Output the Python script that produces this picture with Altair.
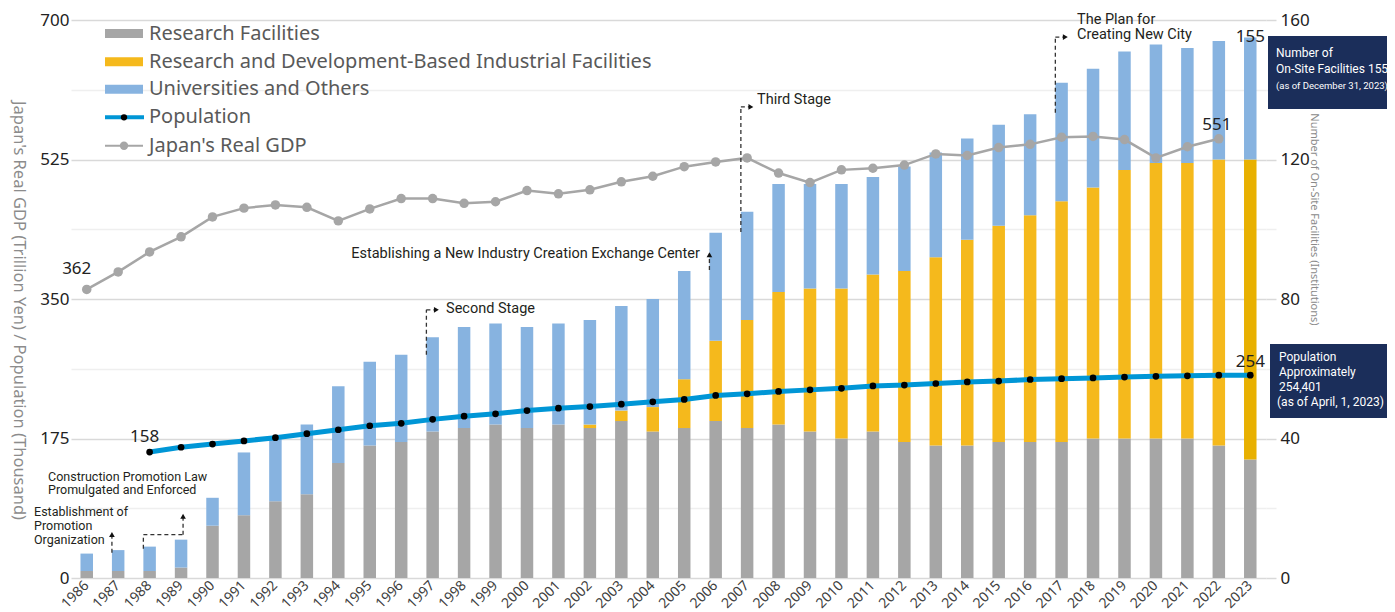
import altair as alt
import pandas as pd

# ---------------- data ----------------
years = list(range(1986, 2024))
research_facilities = [2, 2, 2, 3, 15, 18, 22, 24, 33, 38, 39, 42, 43, 44, 43, 44, 43, 45, 42, 43,
                       45, 43, 44, 42, 40, 42, 39, 38, 38, 39, 39, 39, 40, 40, 40, 40, 38, 34]
rd_facilities = [0, 0, 0, 0, 0, 0, 0, 0, 0, 0, 0, 0, 0, 0, 0, 0, 1, 3, 7, 14,
                 23, 31, 38, 41, 43, 45, 49, 54, 59, 62, 65, 69, 72, 77, 79, 79, 82, 86]
universities = [5, 6, 7, 8, 8, 18, 18, 20, 22, 24, 25, 27, 29, 29, 29, 29, 30, 30, 31, 31,
                31, 31, 31, 30, 30, 28, 30, 30, 29, 29, 29, 34, 34, 34, 34, 33, 34, 35]

pop_years = list(range(1988, 2024))
population = [158, 164, 168, 172, 176, 181, 186, 191, 194, 199, 203, 206, 210, 213, 215, 218,
              221, 224, 229, 231, 234, 236, 238, 241, 242, 244, 246, 247, 249, 250, 251, 252,
              253, 253.6, 254.5, 254.4]

gdp_years = list(range(1986, 2023))
gdp = [362, 384, 409, 428, 453, 464, 468, 465, 448, 463, 476, 476, 470, 472, 486, 482, 487,
       497, 504, 516, 522, 527, 508, 496, 512, 514, 518, 532, 530, 540, 544, 553, 554, 550,
       527, 541, 551]

left_ticks = [0, 175, 350, 525, 700]
right_ticks = list(range(0, 161, 10))

categories = ["Research Facilities", "Research and Development-Based Industrial Facilities",
              "Universities and Others"]
legend_lines = ["Population", "Japan's Real GDP"]

FONT = "Noto Sans"
AFONT = "Roboto"
W, H = 1195, 558
BARW = 12.5

# ---------------- frames ----------------
rows = []
for i, yr in enumerate(years):
    for o, (cat, vals) in enumerate(zip(categories, [research_facilities, rd_facilities, universities])):
        key = cat + (" 2023" if (yr == 2023 and o == 1) else "")
        rows.append({"year": yr, "key": key, "n": vals[i], "o": o})
bar_df = pd.DataFrame(rows)

gdp_df = pd.DataFrame({"year": gdp_years, "v": gdp})
pop_df = pd.DataFrame({"year": pop_years, "v": population})
tot_df = pd.DataFrame({"year": years,
                       "n": [a + b + c for a, b, c in zip(research_facilities, rd_facilities, universities)]})

xs = alt.Scale(domain=years, paddingInner=0, paddingOuter=0)
X = alt.X("year:O", scale=xs)
ys_left = alt.Scale(domain=[0, 700], nice=False, zero=True)
ys_right = alt.Scale(domain=[0, 160], nice=False, zero=True)

major_test = "datum.value % 40 == 0"
grid_color = {"condition": {"test": major_test, "value": "#d9d9d9"}, "value": "#efefef"}

# ---------------- bars (right axis) ----------------
bars = alt.Chart(bar_df).mark_bar(width=BARW).encode(
    x=alt.X("year:O", scale=xs, axis=alt.Axis(
        title=None, labelAngle=-45, labelAlign="right", labelBaseline="middle",
        labelFont=FONT, labelFontSize=14, labelColor="#404040", labelPadding=5,
        ticks=False, domain=False, labelOverlap=False)),
    y=alt.Y("n:Q", stack="zero", scale=ys_right, axis=alt.Axis(
        orient="right", values=right_ticks,
        labelExpr="datum.value % 40 == 0 ? datum.label : ''",
        grid=True, gridColor=grid_color, gridWidth=1.5,
        ticks=True, tickSize=10, tickWidth=1.5, tickColor=grid_color,
        domain=False, labelFont=FONT, labelFontSize=17, labelColor="#222222", labelPadding=4,
        title="Number of On-Site Facilities (Institutions)", titleFont=FONT, titleFontSize=11,
        titleFontWeight="normal", titleColor="#8a8a8a", titleAngle=90, titleX=47, titleY=199,
        titleAlign="center", titleBaseline="middle")),
    color=alt.Color("key:N", legend=None, scale=alt.Scale(
        domain=categories + [categories[1] + " 2023"],
        range=["#a6a6a6", "#f5b91c", "#87b3e0", "#e8b000"])),
    order=alt.Order("o:Q"),
)
bar_label = alt.Chart(tot_df[tot_df.year == 2023]).mark_text(
    font=FONT, fontSize=17, color="#222222", baseline="middle", align="center"
).encode(x=X, y=alt.Y("n:Q", scale=ys_right), text=alt.Text("n:Q"))
bar_group = alt.layer(bars, bar_label)

# ---------------- lines (left axis) ----------------
YL = alt.Y("v:Q", scale=ys_left)

gdp_line = alt.Chart(gdp_df).mark_line(color="#a6a6a6", strokeWidth=2.5).encode(
    x=X,
    y=alt.Y("v:Q", scale=ys_left, axis=alt.Axis(
        orient="left", values=left_ticks, grid=False, ticks=False, domain=False,
        labelFont=FONT, labelFontSize=17, labelColor="#222222", labelPadding=2,
        title="Japan's Real GDP (Trillion Yen) / Population (Thousand)", titleFont=FONT,
        titleFontSize=16.5, titleFontWeight="normal", titleColor="#8c8c8c", titleAngle=90,
        titleX=-53, titleY=290, titleAlign="center", titleBaseline="middle")),
)
gdp_pts = alt.Chart(gdp_df).mark_circle(color="#a6a6a6", size=90, opacity=1).encode(x=X, y=YL)
pop_line = alt.Chart(pop_df).mark_line(color="#0096d6", strokeWidth=5).encode(x=X, y=YL)
pop_pts = alt.Chart(pop_df).mark_circle(color="#000000", size=45, opacity=1).encode(x=X, y=YL)


def vlabel(df, yr, dx, dy):
    return alt.Chart(df[df.year == yr]).mark_text(
        font=FONT, fontSize=17, color="#222222", dx=dx, dy=dy, baseline="middle", align="center"
    ).encode(x=X, y=YL, text=alt.Text("v:Q", format=".0f"))


labels = [vlabel(gdp_df, 1986, -10, -20), vlabel(pop_df, 1988, -5, -15),
          vlabel(gdp_df, 2022, -2, -14), vlabel(pop_df, 2023, 0, -13)]

# ---------------- annotations ----------------
ANN = "#231f20"
EDGE = -BARW / 2
ann_text = pd.DataFrame([
    {"year": 1986, "v": 83, "t": "Establishment of", "dx": -52.7, "s": 12.5},
    {"year": 1986, "v": 65.6, "t": "Promotion", "dx": -52.7, "s": 12.5},
    {"year": 1986, "v": 48, "t": "Organization", "dx": -52.7, "s": 12.5},
    {"year": 1986, "v": 127, "t": "Construction Promotion Law", "dx": -38.7, "s": 12.5},
    {"year": 1986, "v": 110.7, "t": "Promulgated and Enforced", "dx": -38.7, "s": 12.5},
    {"year": 1997, "v": 337, "t": "Second Stage", "dx": 13.4, "s": 14.5},
    {"year": 2007, "v": 599.6, "t": "Third Stage", "dx": 10, "s": 14.5},
    {"year": 2017, "v": 700, "t": "The Plan for", "dx": 15.4, "s": 14.5},
    {"year": 2017, "v": 681.2, "t": "Creating New City", "dx": 15.4, "s": 14.5},
])
text_layers = []
for _, r in ann_text.iterrows():
    text_layers.append(alt.Chart(pd.DataFrame([r])).mark_text(
        font=AFONT, fontSize=r["s"], color=ANN, align="left", baseline="middle", dx=r["dx"]
    ).encode(x=X, y=YL, text="t:N"))
text_layers.append(alt.Chart(pd.DataFrame([{"year": 2006, "v": 406.6,
                                            "t": "Establishing a New Industry Creation Exchange Center"}])).mark_text(
    font=AFONT, fontSize=14.5, color=ANN, align="right", baseline="middle", dx=-15.7
).encode(x=X, y=YL, text="t:N"))

# vertical dashed rules (year, bottom, top, x offset)
vrules = pd.DataFrame([
    {"year": 1987, "v": 31.7, "v2": 53, "off": EDGE},
    {"year": 1988, "v": 36.7, "v2": 54.3, "off": EDGE},
    {"year": 1989, "v": 54.3, "v2": 76, "off": 2},
    {"year": 1997, "v": 280, "v2": 336.4, "off": EDGE},
    {"year": 2006, "v": 386.5, "v2": 404, "off": EDGE},
    {"year": 2007, "v": 434.2, "v2": 591, "off": EDGE},
    {"year": 2017, "v": 583.6, "v2": 678.6, "off": EDGE},
])
rule_layers = []
for _, r in vrules.iterrows():
    rule_layers.append(alt.Chart(pd.DataFrame([r])).mark_rule(
        color="#333333", strokeWidth=1.3, strokeDash=[4, 3], xOffset=r["off"]
    ).encode(x=X, y=YL, y2="v2:Q"))

# horizontal dashed rules
hrules = pd.DataFrame([
    {"year": 1988, "year2": 1989, "v": 54.3, "o1": EDGE, "o2": 2},
    {"year": 1997, "year2": 1997, "v": 336.4, "o1": EDGE, "o2": EDGE + 9},
    {"year": 2007, "year2": 2007, "v": 591, "o1": EDGE, "o2": EDGE + 9},
    {"year": 2017, "year2": 2017, "v": 678.6, "o1": EDGE, "o2": EDGE + 9},
])
for _, r in hrules.iterrows():
    rule_layers.append(alt.Chart(pd.DataFrame([r])).mark_rule(
        color="#333333", strokeWidth=1.3, strokeDash=[4, 3], xOffset=r["o1"], x2Offset=r["o2"]
    ).encode(x=X, x2="year2:O", y=YL))

arrows = pd.DataFrame([
    {"year": 1987, "v": 54.5, "shape": "triangle-up", "off": EDGE},
    {"year": 1989, "v": 77.5, "shape": "triangle-up", "off": 2},
    {"year": 2006, "v": 405.5, "shape": "triangle-up", "off": EDGE},
    {"year": 1997, "v": 336.4, "shape": "triangle-right", "off": EDGE + 10},
    {"year": 2007, "v": 591, "shape": "triangle-right", "off": EDGE + 10},
    {"year": 2017, "v": 678.6, "shape": "triangle-right", "off": EDGE + 10},
])
arrow_layers = []
for _, r in arrows.iterrows():
    arrow_layers.append(alt.Chart(pd.DataFrame([r])).mark_point(
        shape=r["shape"], filled=True, size=32, color="#111111", opacity=1, xOffset=r["off"]
    ).encode(x=X, y=YL))

# ---------------- legend (top-left) ----------------
one = pd.DataFrame({"a": [0]})
leg_y = [13.5, 41.7, 69.3, 97.3, 125.7]
leg_layers = []
for yv, c in zip(leg_y[:3], ["#a6a6a6", "#f5b91c", "#87b3e0"]):
    leg_layers.append(alt.Chart(one).mark_rect(color=c).encode(
        x=alt.value(34), x2=alt.value(72), y=alt.value(yv - 4.5), y2=alt.value(yv + 4.5)))
leg_layers.append(alt.Chart(one).mark_rule(color="#0096d6", strokeWidth=4).encode(
    x=alt.value(34), x2=alt.value(73), y=alt.value(leg_y[3])))
leg_layers.append(alt.Chart(one).mark_circle(color="#000000", size=40, opacity=1).encode(
    x=alt.value(53), y=alt.value(leg_y[3])))
leg_layers.append(alt.Chart(one).mark_rule(color="#a6a6a6", strokeWidth=2).encode(
    x=alt.value(34), x2=alt.value(72), y=alt.value(leg_y[4])))
leg_layers.append(alt.Chart(one).mark_circle(color="#a6a6a6", size=70, opacity=1).encode(
    x=alt.value(53), y=alt.value(leg_y[4])))
for yv, t in zip(leg_y, categories + legend_lines):
    leg_layers.append(alt.Chart(one).mark_text(
        text=t, font=FONT, fontSize=20, color="#595959", align="left", baseline="middle"
    ).encode(x=alt.value(78), y=alt.value(yv)))

# ---------------- callout boxes (right) ----------------
NAVY = "#1b2e5a"
box_layers = [
    alt.Chart(one).mark_rect(color=NAVY).encode(
        x=alt.value(1197), x2=alt.value(1330), y=alt.value(16), y2=alt.value(89)),
    alt.Chart(one).mark_rect(color=NAVY).encode(
        x=alt.value(1199), x2=alt.value(1330), y=alt.value(324), y2=alt.value(398)),
]
box_text = [
    ("Number of", 1205, 33, 12), ("On-Site Facilities 155", 1205, 49, 12),
    ("(as of December 31, 2023)", 1205, 66, 9.5),
    ("Population", 1208, 337, 12), ("Approximately", 1208, 352, 12),
    ("254,401", 1208, 367, 12), (" (as of April, 1, 2023)", 1206, 382, 12),
]
for t, xv, yv, s in box_text:
    box_layers.append(alt.Chart(one).mark_text(
        text=t, font=AFONT, fontSize=s, color="white", align="left", baseline="middle"
    ).encode(x=alt.value(xv), y=alt.value(yv)))

left_group = alt.layer(gdp_line, gdp_pts, pop_line, pop_pts, *labels, *rule_layers,
                       *arrow_layers, *text_layers, *leg_layers, *box_layers)

chart = alt.layer(bar_group, left_group).resolve_scale(y="independent").properties(
    width=W, height=H,
    autosize=alt.AutoSizeParams(type="none"),
    padding={"left": 63, "top": 12, "right": 121, "bottom": 34},
).configure_view(stroke=None)

chart.save("out.html", embed_options={"renderer": "svg", "actions": False})
